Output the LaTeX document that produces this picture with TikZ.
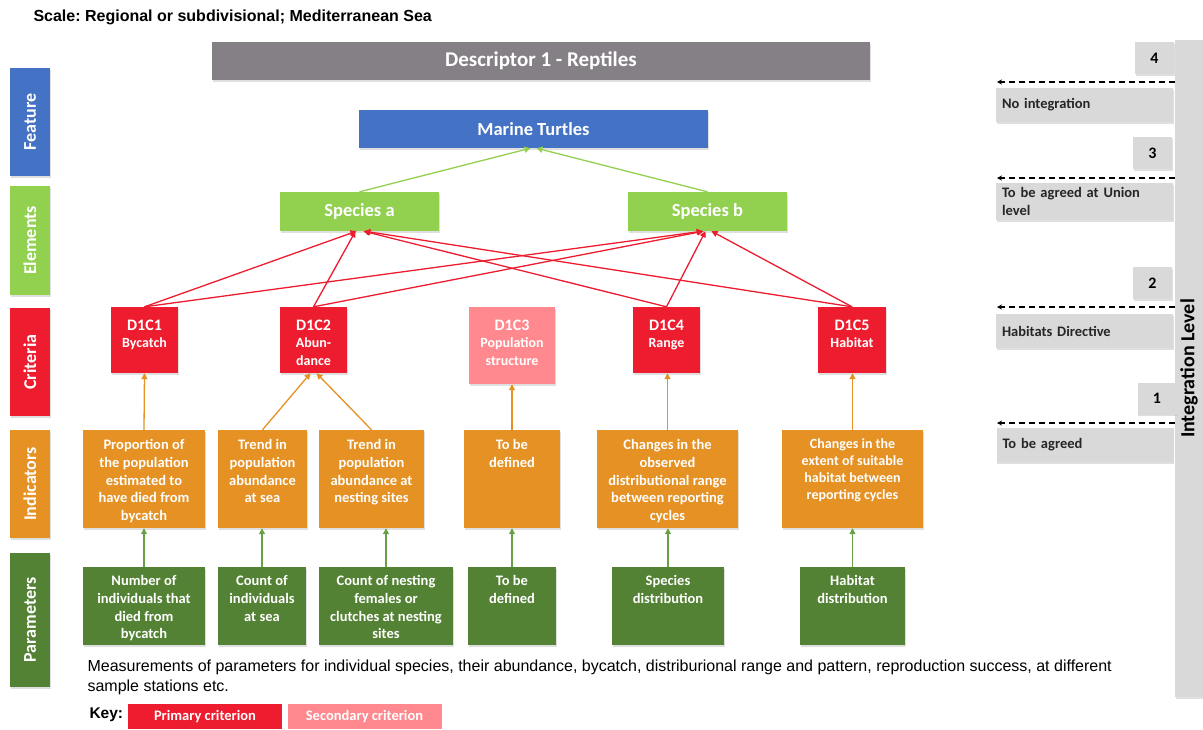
\documentclass[tikz,border=0pt]{standalone}
\usepackage{fontspec}
\setmainfont{Carlito}
\newfontfamily\arialfont{Liberation Sans}
\usetikzlibrary{arrows.meta,shadows}
\frenchspacing

\definecolor{descgray}{RGB}{133,127,134}
\definecolor{featblue}{RGB}{68,114,196}
\definecolor{elemgreen}{RGB}{146,208,80}
\definecolor{critred}{RGB}{237,28,46}
\definecolor{critpink}{RGB}{255,137,142}
\definecolor{indorange}{RGB}{229,145,36}
\definecolor{pargreen}{RGB}{84,130,53}
\definecolor{arrgreen}{RGB}{104,160,72}
\definecolor{lightgray}{RGB}{217,217,217}

\newcommand{\cell}[4][7]{\parbox[c][#3pt][t]{#2pt}{\centering\vspace*{#1pt}\strut#4}}
\newcommand{\crithead}[1]{{\fontsize{16}{17.5}\selectfont #1}}

\tikzset{
  shad/.style={drop shadow={shadow xshift=0.8pt,shadow yshift=-1.6pt,opacity=0.25}},
  sidebar/.style={shad,minimum width=40,inner sep=0pt,text=white,font=\fontsize{18}{20}\selectfont\bfseries},
  headbox/.style={shad,inner sep=0pt,text=white,font=\fontsize{18.5}{22}\selectfont\bfseries},
  crit/.style={shad,fill=critred,inner sep=0pt,text=white,font=\fontsize{14}{17.5}\selectfont\bfseries},
  ind/.style={shad,fill=indorange,inner sep=0pt,text=white,font=\fontsize{14.5}{17.8}\selectfont\bfseries},
  parambox/.style={shad,fill=pargreen,inner sep=0pt,text=white,font=\fontsize{14.5}{17.8}\selectfont\bfseries},
  numbox/.style={shad,fill=lightgray,minimum width=39,minimum height=32,inner sep=0pt,font=\fontsize{16}{18}\selectfont\bfseries},
  lvlbox/.style={shad,fill=lightgray,text width=165,inner xsep=6pt,inner ysep=0pt,align=left,text=black!85,font=\fontsize{14.5}{17.5}\selectfont\bfseries},
  keybox/.style={minimum width=154,minimum height=25,inner sep=0pt,text=white,font=\fontsize{14.5}{17}\selectfont\bfseries},
  redarr/.style={critred,line width=1.3pt,-{Triangle[length=6pt,width=6pt]}},
  orangearr/.style={indorange,line width=1.3pt,-{Triangle[length=6pt,width=6pt]}},
  greenarr/.style={arrgreen,line width=1.3pt,-{Triangle[length=6pt,width=6pt]}},
  toparr/.style={elemgreen,line width=1.3pt,-{Triangle[length=6pt,width=6pt]}},
  dasharr/.style={black,line width=1.2pt,dash pattern=on 6pt off 4pt,-{Stealth[length=5pt,width=5pt]}}
}

\begin{document}
\begin{tikzpicture}[x=1pt,y=-1pt]
\useasboundingbox (0,0) rectangle (1203,729);

\path node (scale) at (30,17) [anchor=west,font=\arialfont\bfseries\fontsize{16}{18}\selectfont] {Scale: Regional or subdivisional; Mediterranean Sea};

% level labels on the left
\path node (lfeat) at (30,122) [sidebar,fill=featblue,minimum height=108] {\rotatebox{90}{Feature}}
node (lelem) at (30,240.5) [sidebar,fill=elemgreen,minimum height=109] {\rotatebox{90}{Elements}}
node (lcrit) at (30,362) [sidebar,fill=critred,minimum height=108] {\rotatebox{90}{Criteria}}
node (lind) at (30,484) [sidebar,fill=indorange,minimum height=108] {\rotatebox{90}{Indicators}}
node (lpar) at (30,620) [sidebar,fill=pargreen,minimum height=134] {\rotatebox{90}{Parameters}};

% descriptor, feature, elements
\path node (desc) at (541,61) [headbox,fill=descgray,minimum width=658,minimum height=38,font=\fontsize{21}{24}\selectfont\bfseries] {Descriptor 1 - Reptiles}
node (tt) at (533.5,129) [headbox,fill=featblue,minimum width=349,minimum height=38] {Marine Turtles}
node (sa) at (359.5,211.5) [headbox,fill=elemgreen,minimum width=159,minimum height=39] {Species a}
node (sb) at (707.5,211.5) [headbox,fill=elemgreen,minimum width=159,minimum height=39] {Species b};

% criteria
\path node (c1) at (144.5,340) [crit] {\cell[11]{67}{66}{\crithead{D1C1}\\Bycatch}}
node (c2) at (313.5,340) [crit] {\cell[11]{67}{66}{\crithead{D1C2}\\Abun-\\dance}}
node (c3) at (512,345.5) [crit,fill=critpink] {\cell[11]{86}{77}{\crithead{D1C3}\\Population\\structure}}
node (c4) at (666.5,340) [crit] {\cell[11]{67}{66}{\crithead{D1C4}\\Range}}
node (c5) at (852,340) [crit] {\cell[11]{68}{66}{\crithead{D1C5}\\Habitat}};

% indicators
\path node (i1) at (144,479) [ind] {\cell{122}{98}{Proportion of\\the population\\estimated to\\have died from\\bycatch}}
node (i2) at (262.5,479) [ind] {\cell{89}{98}{Trend in\\population\\abundance\\at sea}}
node (i3) at (371.5,479) [ind] {\cell{105}{98}{Trend in\\population\\abundance at\\nesting sites}}
node (i4) at (512,479) [ind] {\cell{96}{98}{To be\\defined}}
node (i5) at (667.5,479) [ind] {\cell{141}{98}{Changes in the\\observed\\distributional range\\between reporting\\cycles}}
node (i6) at (852.5,479) [ind,font=\fontsize{14}{17}\selectfont\bfseries] {\cell{141}{98}{Changes in the\\extent of suitable\\habitat between\\reporting cycles}};

% parameters
\path node (p1) at (144,606) [parambox] {\cell[6]{122}{78}{Number of\\individuals that\\died from\\bycatch}}
node (p2) at (262,606) [parambox] {\cell[6]{88}{78}{Count of\\individuals\\at sea}}
node (p3) at (386,606) [parambox] {\cell[6]{134}{78}{Count of nesting\\females or\\clutches at nesting\\sites}}
node (p4) at (512,606) [parambox] {\cell[6]{88}{78}{To be\\defined}}
node (p5) at (668,606) [parambox] {\cell[6]{112}{78}{Species\\distribution}}
node (p6) at (852.5,606) [parambox] {\cell[6]{105}{78}{Habitat\\distribution}};

\draw[toparr] (sa.north) -- ([xshift=-3]tt.south);
\draw[toparr] (sb.north) -- ([xshift=3]tt.south);

\draw[redarr] (c1.north) -- ([xshift=-3]sa.south);
\draw[redarr] (c2.north) -- ([xshift=-4]sa.south);
\draw[redarr] (c4.north) -- ([xshift=4]sa.south);
\draw[redarr] (c5.north) -- ([xshift=5]sa.south);
\draw[redarr] (c1.north) -- ([xshift=-5]sb.south);
\draw[redarr] (c2.north) -- ([xshift=-4]sb.south);
\draw[redarr] (c4.north) -- ([xshift=-2]sb.south);
\draw[redarr] (c5.north) -- ([xshift=4]sb.south);

\draw[orangearr] (i1.north) -- (c1.south);
\draw[orangearr] (i2.north) -- ([xshift=-3]c2.south);
\draw[orangearr] (i3.north) -- ([xshift=3]c2.south);
\draw[orangearr] (i4.north) -- (c3.south);
\draw[orangearr] (i5.north) -- (i5.north |- c4.south);
\draw[orangearr] (i6.north) -- (i6.north |- c5.south);

\draw[greenarr] (p1.north) -- (i1.south);
\draw[greenarr] (p2.north) -- (p2.north |- i2.south);
\draw[greenarr] (p3.north) -- (p3.north |- i3.south);
\draw[greenarr] (p4.north) -- (i4.south);
\draw[greenarr] (p5.north) -- (p5.north |- i5.south);
\draw[greenarr] (p6.north) -- (i6.south);

% integration level
\path node (intbar) at (1189,368.5) [shad,fill=lightgray,minimum width=28,minimum height=657,inner sep=0pt] {\rotatebox{90}{\fontsize{20}{22}\selectfont\bfseries Integration Level}};
\path node (n4) at (1154.5,58) [numbox] {4}
node (n3) at (1152.5,153) [numbox] {3}
node (n2) at (1152.5,283) [numbox] {2}
node (n1) at (1157,398.5) [numbox] {1};
\path node (t4) at (1084.5,105) [lvlbox,minimum height=34] {No integration}
node (t3) at (1084.5,201.5) [lvlbox,minimum height=37] {To be agreed at Union\\level}
node (t2) at (1084.5,331) [lvlbox,minimum height=34] {Habitats Directive}
node (t1) at (1085,445) [lvlbox,minimum height=34] {To be agreed};
\coordinate (d4) at (997,82);
\coordinate (d3) at (997,178);
\coordinate (d2) at (997,307);
\coordinate (d1) at (997,423);
\draw[dasharr] (intbar.west |- d4) -- (d4);
\draw[dasharr] (intbar.west |- d3) -- (d3);
\draw[dasharr] (intbar.west |- d2) -- (d2);
\draw[dasharr] (intbar.west |- d1) -- (d1);

% note and key
\path node (note) at (84,677) [anchor=west,align=left,font=\arialfont\fontsize{16}{20}\selectfont] {Measurements of parameters for individual species, their abundance, bycatch, distriburional range and pattern, reproduction success, at different\\sample stations etc.};
\path node (key) at (86,715) [anchor=west,font=\arialfont\bfseries\fontsize{15.5}{18}\selectfont] {Key:}
node (kp) at (205,716.5) [keybox,fill=critred] {Primary criterion}
node (ks) at (364.5,716.5) [keybox,fill=critpink] {Secondary criterion};
\end{tikzpicture}
\end{document}
